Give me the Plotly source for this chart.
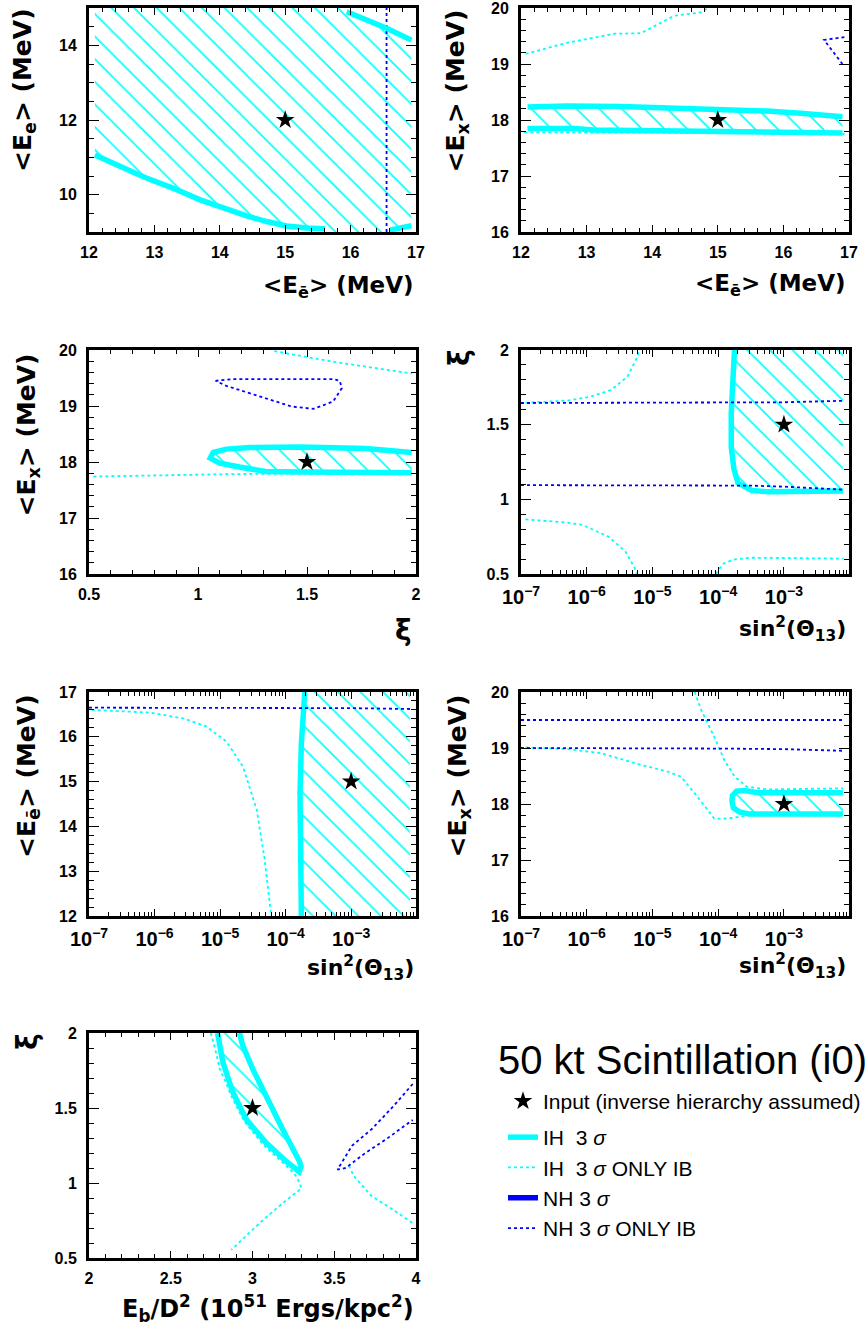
import plotly.graph_objects as go

W, H = 868, 1332
CYAN = "#00FFFF"
BLUE = "#0000FF"

# ---------------- Panel 1 : <E_e> vs <E_ebar> ----------------
p1_ih_low_x = [12.09, 12.42, 12.83, 13.29, 13.70, 14.00, 14.41, 14.72, 15.02, 15.33, 15.61]
p1_ih_low_y = [11.06, 10.79, 10.48, 10.17, 9.86, 9.68, 9.43, 9.28, 9.16, 9.11, 9.09]
p1_ih_br_x = [16.60, 16.93]
p1_ih_br_y = [9.05, 9.17]
p1_ih_tr_x = [15.94, 16.25, 16.55, 16.93]
p1_ih_tr_y = [14.90, 14.68, 14.46, 14.14]
p1_nh_ib_x = [16.55, 16.55]
p1_nh_ib_y = [9.0, 15.0]
p1_grid_x = [12.09, 16.93]
p1_grid_y = [9.0, 15.0]
p1_input = (15.0, 12.0)

# ---------------- Panel 2 : <E_x> vs <E_ebar> ----------------
p2_ih_up_x = [12.10, 12.71, 13.52, 14.23, 14.99, 15.75, 16.26, 16.90]
p2_ih_up_y = [18.23, 18.25, 18.24, 18.22, 18.19, 18.16, 18.12, 18.06]
p2_ih_lo_x = [12.10, 12.81, 13.11, 14.23, 15.75, 16.90]
p2_ih_lo_y = [17.85, 17.85, 17.82, 17.81, 17.79, 17.77]
p2_ib_lo_x = [12.05, 13.0, 14.0, 15.0, 16.0, 16.93]
p2_ib_lo_y = [17.78, 17.78, 17.78, 17.77, 17.76, 17.75]
p2_ib_up_x = [12.07, 12.71, 13.42, 13.83, 14.33, 14.74, 14.85]
p2_ib_up_y = [19.18, 19.38, 19.54, 19.55, 19.86, 19.92, 20.0]
p2_nh_ib_x = [16.93, 16.62, 16.90]
p2_nh_ib_y = [19.48, 19.43, 19.00]
p2_input = (15.0, 18.0)

# ---------------- Panel 3 : <E_x> vs xi ----------------
p3_ih_x = [1.98, 1.77, 1.47, 1.24, 1.13, 1.07, 1.056, 1.10, 1.19, 1.31, 1.47, 1.62, 1.98]
p3_ih_y = [18.17, 18.24, 18.27, 18.26, 18.23, 18.17, 18.07, 17.98, 17.91, 17.83, 17.82, 17.82, 17.81]
p3_ib_lo_x = [0.52, 0.85, 1.10, 1.31, 1.60, 1.98]
p3_ib_lo_y = [17.74, 17.77, 17.78, 17.79, 17.80, 17.80]
p3_ib_up_x = [1.35, 1.62, 1.98]
p3_ib_up_y = [19.98, 19.79, 19.58]
p3_nh_ib_x = [1.08, 1.16, 1.40, 1.62, 1.65, 1.66, 1.62, 1.53, 1.43, 1.28, 1.13, 1.08]
p3_nh_ib_y = [19.45, 19.48, 19.48, 19.48, 19.45, 19.32, 19.08, 18.95, 18.99, 19.17, 19.36, 19.45]
p3_input = (1.5, 18.0)

# ---------------- Panel 4 : xi vs sin^2(theta13) ----------------
p4_ih_x = [1.77e-4, 1.66e-4, 1.58e-4, 1.58e-4, 1.74e-4, 2.0e-4, 3.2e-4, 5.7e-4, 1.8e-3, 7.9e-3]
p4_ih_y = [2.0, 1.80, 1.58, 1.35, 1.20, 1.11, 1.06, 1.05, 1.05, 1.056]
p4_nh_up_x = [1e-7, 1e-5, 1e-4, 1e-3, 8e-3]
p4_nh_up_y = [1.645, 1.645, 1.646, 1.650, 1.660]
p4_nh_lo_x = [1e-7, 1e-5, 1e-4, 3e-4, 1e-3, 3e-3, 8e-3]
p4_nh_lo_y = [1.095, 1.095, 1.095, 1.092, 1.085, 1.075, 1.065]
p4_ib_ul_x = [1.17e-7, 5.1e-7, 1.15e-6, 2.34e-6, 4.17e-6, 5.9e-6, 6.3e-6]
p4_ib_ul_y = [1.647, 1.661, 1.688, 1.732, 1.822, 1.955, 2.0]
p4_ib_ll_x = [1.17e-7, 5.1e-7, 8.7e-7, 2.14e-6, 3.9e-6, 5.4e-6, 5.75e-6]
p4_ib_ll_y = [0.866, 0.844, 0.828, 0.75, 0.649, 0.538, 0.5]
p4_ib_lr_x = [9.3e-5, 9.8e-5, 1.23e-4, 1.78e-4, 3.16e-4, 1.82e-3, 8.1e-3]
p4_ib_lr_y = [0.5, 0.522, 0.572, 0.598, 0.609, 0.607, 0.603]
p4_grid_x = [1e-7, 7.9e-3]
p4_grid_y = [0.5, 2.0]
p4_input = (1e-3, 1.5)

# ---------------- Panel 5 : <E_ebar> vs sin^2(theta13) ----------------
p5_ih_x = [1.96e-4, 1.74e-4, 1.66e-4, 1.66e-4, 1.70e-4, 1.74e-4]
p5_ih_y = [17.0, 15.85, 14.74, 13.62, 12.51, 12.0]
p5_nh_ib_x = [1e-7, 1e-5, 1e-3, 8e-3]
p5_nh_ib_y = [16.65, 16.65, 16.64, 16.62]
p5_ib_x = [1.1e-7, 8.5e-7, 2.75e-6, 6.2e-6, 1.26e-5, 2.24e-5, 3.63e-5, 4.8e-5, 5.9e-5, 6.0e-5]
p5_ib_y = [16.60, 16.54, 16.41, 16.23, 15.89, 15.33, 14.37, 13.25, 12.13, 12.0]
p5_grid_x = [1e-7, 7.9e-3]
p5_grid_y = [12.0, 17.0]
p5_input = (1e-3, 15.0)

# ---------------- Panel 6 : <E_x> vs sin^2(theta13) ----------------
p6_ih_x = [7.9e-3, 1e-3, 4e-4, 2.5e-4, 1.9e-4, 1.65e-4, 1.62e-4, 1.7e-4, 2.1e-4, 3e-4, 1e-3, 7.9e-3]
p6_ih_y = [18.20, 18.19, 18.20, 18.24, 18.23, 18.15, 18.05, 17.93, 17.86, 17.82, 17.82, 17.82]
p6_nh_up_x = [1e-7, 1e-4, 8e-3]
p6_nh_up_y = [19.5, 19.5, 19.5]
p6_nh_lo_x = [1e-7, 1e-5, 1e-4, 1e-3, 8e-3]
p6_nh_lo_y = [19.0, 19.0, 18.99, 18.98, 18.95]
p6_ib_lo_x = [1.17e-7, 5.1e-7, 1.62e-6, 6.6e-6, 1.7e-5, 2.7e-5, 4.4e-5, 6.9e-5, 8.7e-5, 1.38e-4, 3.16e-4, 7.9e-3]
p6_ib_lo_y = [19.01, 18.98, 18.91, 18.70, 18.58, 18.49, 18.19, 17.89, 17.74, 17.74, 17.80, 17.79]
p6_ib_up_x = [4.4e-5, 4.6e-5, 5.5e-5, 8.7e-5, 1.23e-4, 1.78e-4, 2.7e-4, 5.7e-4, 7.9e-3]
p6_ib_up_y = [20.0, 19.93, 19.68, 19.20, 18.79, 18.49, 18.31, 18.26, 18.28]
p6_input = (1e-3, 18.0)

# ---------------- Panel 7 : xi vs E_b/D^2 ----------------
p7_ih_x = [2.785, 2.79, 2.819, 2.88, 2.962, 3.083, 3.205, 3.266, 3.285, 3.297, 3.287, 3.185, 3.083, 3.002, 2.941, 2.92]
p7_ih_y = [2.0, 1.98, 1.804, 1.603, 1.424, 1.268, 1.145, 1.089, 1.075, 1.11, 1.145, 1.357, 1.58, 1.759, 1.915, 2.0]
p7_ib_l_x = [2.745, 2.77, 2.80, 2.83, 2.87, 2.95, 3.07, 3.19, 3.25, 3.275, 3.29, 3.30, 3.185, 3.043, 2.87]
p7_ib_l_y = [2.0, 1.90, 1.76, 1.69, 1.58, 1.41, 1.25, 1.13, 1.07, 1.03, 0.99, 0.965, 0.866, 0.732, 0.554]
p7_ib_r_x = [3.59, 3.62, 3.73, 3.86, 3.98]
p7_ib_r_y = [1.116, 1.045, 0.911, 0.822, 0.732]
p7_nh_ib_x = [3.98, 3.86, 3.73, 3.61, 3.52, 3.57, 3.69, 3.815, 3.98]
p7_nh_ib_y = [1.66, 1.51, 1.36, 1.25, 1.09, 1.10, 1.20, 1.29, 1.42]
p7_input = (3.0, 1.5)

LEGEND_NAMES = ["Input (inverse hierarchy assumed)", "IH  3 <i>σ</i>", "IH  3 <i>σ</i> ONLY IB",
                "NH 3 <i>σ</i>", "NH 3 <i>σ</i> ONLY IB"]

# ---------------- styles ----------------
THICK = dict(color=CYAN, width=5.5)
IB_CYAN = dict(color=CYAN, width=1.8, dash="3px,3px")
IB_BLUE = dict(color=BLUE, width=1.8, dash="3px,3px")
HATCH = dict(shape="\\", fgcolor=CYAN, size=16, solidity=0.1, fillmode="replace")

fig = go.Figure()
shown = set()


def ax_ids(i):
    return ("x" if i == 1 else f"x{i}"), ("y" if i == 1 else f"y{i}")


def hatch(i, xs, ys):
    xa, ya = ax_ids(i)
    fig.add_trace(go.Scatter(x=xs, y=ys, xaxis=xa, yaxis=ya, mode="lines", fill="toself",
                             fillcolor="rgba(0,0,0,0)", fillpattern=HATCH,
                             line=dict(width=0, color="rgba(0,0,0,0)"), showlegend=False,
                             hoverinfo="skip"))


def line(i, xs, ys, style, key):
    xa, ya = ax_ids(i)
    show = key not in shown
    shown.add(key)
    rank = {"ih": 2, "ihib": 3, "nhib": 5}[key]
    name = {"ih": LEGEND_NAMES[1], "ihib": LEGEND_NAMES[2], "nhib": LEGEND_NAMES[4]}[key]
    fig.add_trace(go.Scatter(x=xs, y=ys, xaxis=xa, yaxis=ya, mode="lines", line=style,
                             name=name, legendgroup=key, showlegend=show, legendrank=rank,
                             legend="legend2"))


def star(i, pt):
    xa, ya = ax_ids(i)
    show = "star" not in shown
    shown.add("star")
    fig.add_trace(go.Scatter(x=[pt[0]], y=[pt[1]], xaxis=xa, yaxis=ya, mode="markers",
                             marker=dict(symbol="star", size=14, color="black"),
                             name=LEGEND_NAMES[0], legendgroup="star", showlegend=show,
                             legend="legend"))


# Panel 1
p1_reg_x = (p1_ih_low_x + [p1_ih_low_x[-1], p1_ih_br_x[0]] + p1_ih_br_x + p1_ih_tr_x[::-1]
            + [p1_ih_tr_x[0], p1_grid_x[0]])
p1_reg_y = (p1_ih_low_y + [p1_grid_y[0], p1_grid_y[0]] + p1_ih_br_y + p1_ih_tr_y[::-1]
            + [p1_grid_y[1], p1_grid_y[1]])
hatch(1, p1_reg_x, p1_reg_y)
line(1, p1_nh_ib_x, p1_nh_ib_y, IB_BLUE, "nhib")
line(1, p1_ih_low_x, p1_ih_low_y, THICK, "ih")
line(1, p1_ih_br_x, p1_ih_br_y, THICK, "ih")
line(1, p1_ih_tr_x, p1_ih_tr_y, THICK, "ih")
star(1, p1_input)

# Panel 2
hatch(2, p2_ih_up_x + p2_ih_lo_x[::-1], p2_ih_up_y + p2_ih_lo_y[::-1])
line(2, p2_ib_lo_x, p2_ib_lo_y, IB_CYAN, "ihib")
line(2, p2_ib_up_x, p2_ib_up_y, IB_CYAN, "ihib")
line(2, p2_nh_ib_x, p2_nh_ib_y, IB_BLUE, "nhib")
line(2, p2_ih_up_x, p2_ih_up_y, THICK, "ih")
line(2, p2_ih_lo_x, p2_ih_lo_y, THICK, "ih")
star(2, p2_input)

# Panel 3
hatch(3, p3_ih_x, p3_ih_y)
line(3, p3_ib_lo_x, p3_ib_lo_y, IB_CYAN, "ihib")
line(3, p3_ib_up_x, p3_ib_up_y, IB_CYAN, "ihib")
line(3, p3_nh_ib_x, p3_nh_ib_y, IB_BLUE, "nhib")
line(3, p3_ih_x, p3_ih_y, THICK, "ih")
star(3, p3_input)

# Panel 4
hatch(4, p4_ih_x + [p4_grid_x[1], p4_ih_x[0]], p4_ih_y + [p4_grid_y[1], p4_grid_y[1]])
line(4, p4_ib_ul_x, p4_ib_ul_y, IB_CYAN, "ihib")
line(4, p4_ib_ll_x, p4_ib_ll_y, IB_CYAN, "ihib")
line(4, p4_ib_lr_x, p4_ib_lr_y, IB_CYAN, "ihib")
line(4, p4_ih_x, p4_ih_y, THICK, "ih")
line(4, p4_nh_up_x, p4_nh_up_y, IB_BLUE, "nhib")
line(4, p4_nh_lo_x, p4_nh_lo_y, IB_BLUE, "nhib")
star(4, p4_input)

# Panel 5
hatch(5, p5_ih_x + [p5_grid_x[1], p5_grid_x[1]], p5_ih_y + [p5_grid_y[0], p5_grid_y[1]])
line(5, p5_ib_x, p5_ib_y, IB_CYAN, "ihib")
line(5, p5_ih_x, p5_ih_y, THICK, "ih")
line(5, p5_nh_ib_x, p5_nh_ib_y, IB_BLUE, "nhib")
star(5, p5_input)

# Panel 6
hatch(6, p6_ih_x, p6_ih_y)
line(6, p6_ib_lo_x, p6_ib_lo_y, IB_CYAN, "ihib")
line(6, p6_ib_up_x, p6_ib_up_y, IB_CYAN, "ihib")
line(6, p6_nh_up_x, p6_nh_up_y, IB_BLUE, "nhib")
line(6, p6_nh_lo_x, p6_nh_lo_y, IB_BLUE, "nhib")
line(6, p6_ih_x, p6_ih_y, THICK, "ih")
star(6, p6_input)

# Panel 7
hatch(7, p7_ih_x, p7_ih_y)
line(7, p7_ib_l_x, p7_ib_l_y, IB_CYAN, "ihib")
line(7, p7_ib_r_x, p7_ib_r_y, IB_CYAN, "ihib")
line(7, p7_nh_ib_x, p7_nh_ib_y, IB_BLUE, "nhib")
line(7, p7_ih_x, p7_ih_y, THICK, "ih")
star(7, p7_input)

# legend-only entry for NH 3 sigma (no NH 3 sigma contour present in the panels)
fig.add_trace(go.Scatter(x=[None], y=[None], xaxis="x7", yaxis="y7", mode="lines",
                         line=dict(color=BLUE, width=5.5), name=LEGEND_NAMES[3],
                         legendrank=4, showlegend=True, legend="legend2"))

# ---------------- axes ----------------
def px_x(p):
    return p / W


def px_y(p):
    return 1 - p / H


COLS = [(89, 416), (521, 849)]
ROWS = [(8, 232), (350, 574), (692, 916), (1033, 1258)]
TICKFONT = dict(family="Liberation Sans", size=16, color="black", weight="bold")

panels = {
    1: dict(col=0, row=0, xr=[12, 17], xd=1, xm=0.2, yr=[9, 15], yd=2, ym=0.5, xlog=False),
    2: dict(col=1, row=0, xr=[12, 17], xd=1, xm=0.2, yr=[16, 20], yd=1, ym=0.2, xlog=False),
    3: dict(col=0, row=1, xr=[0.5, 2], xd=0.5, xm=0.1, yr=[16, 20], yd=1, ym=0.2, xlog=False),
    4: dict(col=1, row=1, xr=[-7, -2.01], xd=1, xm=None, yr=[0.5, 2], yd=0.5, ym=0.1, xlog=True),
    5: dict(col=0, row=2, xr=[-7, -2.01], xd=1, xm=None, yr=[12, 17], yd=1, ym=0.2, xlog=True),
    6: dict(col=1, row=2, xr=[-7, -2.01], xd=1, xm=None, yr=[16, 20], yd=1, ym=0.2, xlog=True),
    7: dict(col=0, row=3, xr=[2, 4], xd=0.5, xm=0.1, yr=[0.5, 2], yd=0.5, ym=0.1, xlog=False),
}

layout = {}
for i, p in panels.items():
    c0, c1 = COLS[p["col"]]
    r0, r1 = ROWS[p["row"]]
    xa, ya = ax_ids(i)
    xname = "xaxis" if i == 1 else f"xaxis{i}"
    yname = "yaxis" if i == 1 else f"yaxis{i}"
    common = dict(showline=True, linewidth=3, linecolor="black", mirror="ticks", ticks="inside",
                  tickwidth=1.3, tickcolor="black", showgrid=False, zeroline=False,
                  tickfont=TICKFONT, fixedrange=True, automargin=False,
                  ticklabeloverflow="allow")
    xax = dict(common, domain=[px_x(c0), px_x(c1)], anchor=ya, range=p["xr"], dtick=p["xd"],
               ticklen=7, ticklabelstandoff=4)
    if p["xlog"]:
        xax.update(type="log", exponentformat="power",
                   minor=dict(ticks="inside", ticklen=4, tickwidth=1.1, tickcolor="black",
                              dtick="D1", showgrid=False))
    else:
        xax.update(tick0=p["xr"][0],
                   minor=dict(ticks="inside", ticklen=4, tickwidth=1.1, tickcolor="black",
                              dtick=p["xm"], showgrid=False))
    yax = dict(common, domain=[px_y(r1), px_y(r0)], anchor=xa, range=p["yr"], dtick=p["yd"],
               tick0=0, ticklen=10, ticklabelstandoff=6,
               minor=dict(ticks="inside", ticklen=5, tickwidth=1.1, tickcolor="black",
                          dtick=p["ym"], showgrid=False))
    layout[xname] = xax
    layout[yname] = yax

TITLE_FONT = dict(family="DejaVu Sans", size=23, color="black", weight="bold")
YTITLE_FONT = dict(family="DejaVu Sans", size=25, color="black", weight="bold")
XI_FONT = dict(family="DejaVu Sans", size=28, color="black", weight="bold")

E_EBAR = "&lt;E<sub>ē</sub>&gt; (MeV)"
E_E = "&lt;E<sub>e</sub>&gt; (MeV)"
E_X = "&lt;E<sub>x</sub>&gt; (MeV)"
SIN = "sin<sup>2</sup>(Θ<sub>13</sub>)"
EB = "E<sub>b</sub>/D<sup>2</sup> (10<sup>51</sup> Ergs/kpc<sup>2</sup>)"

annotations = []


def xtitle(text, px, py, font=TITLE_FONT):
    annotations.append(dict(text=text, x=px_x(px), y=px_y(py), xref="paper", yref="paper",
                            xanchor="right", yanchor="middle", showarrow=False, font=font))


def ytitle(text, px, py, font=YTITLE_FONT, anchor="top"):
    annotations.append(dict(text=text, x=px_x(px), y=px_y(py), xref="paper", yref="paper",
                            xanchor="center", yanchor=anchor, showarrow=False, font=font,
                            textangle=-90))


xtitle(E_EBAR, 416, 287)
xtitle(E_EBAR, 848, 285)
xtitle("ξ", 414, 630, XI_FONT)
xtitle(SIN, 848, 629, dict(TITLE_FONT, size=22))
xtitle(SIN, 416, 968, dict(TITLE_FONT, size=22))
xtitle(SIN, 848, 966, dict(TITLE_FONT, size=22))
xtitle(EB, 416, 1308, dict(TITLE_FONT, size=24))

ytitle(E_E, 24, 6)
ytitle(E_X, 457, 8)
ytitle(E_X, 27, 352)
ytitle("ξ", 459, 357, XI_FONT, anchor="middle")
ytitle(E_EBAR, 28, 692)
ytitle(E_X, 459, 692)
ytitle("ξ", 27, 1042, XI_FONT, anchor="middle")

annotations.append(dict(text="50 kt Scintillation (i0)", x=px_x(682), y=px_y(1060), xref="paper",
                        yref="paper", xanchor="center", yanchor="middle", showarrow=False,
                        font=dict(family="Liberation Sans", size=40, color="black")))

LEG_FONT = dict(family="Liberation Sans", size=21, color="black")
fig.update_layout(
    width=W, height=H, margin=dict(l=0, r=0, t=0, b=0, autoexpand=False),
    paper_bgcolor="white", plot_bgcolor="white",
    annotations=annotations,
    showlegend=True,
    legend=dict(x=px_x(503), y=px_y(1081), xanchor="left", yanchor="top", font=LEG_FONT,
                bgcolor="rgba(0,0,0,0)", borderwidth=0, itemclick=False, itemdoubleclick=False),
    legend2=dict(x=px_x(503), y=px_y(1117), xanchor="left", yanchor="top", font=LEG_FONT,
                 bgcolor="rgba(0,0,0,0)", borderwidth=0, tracegroupgap=0, traceorder="normal",
                 itemclick=False, itemdoubleclick=False),
    **layout,
)

fig.write_html("out.html", config={"displayModeBar": False},
               post_script="document.body.style.margin='0px';")
